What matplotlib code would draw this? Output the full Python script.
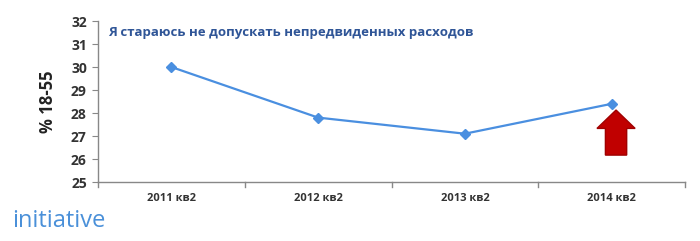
import matplotlib
matplotlib.use("Agg")
import matplotlib.pyplot as plt
from matplotlib.patches import FancyArrow

categories = ["2011 кв2", "2012 кв2", "2013 кв2", "2014 кв2"]
values = [30.0, 27.8, 27.1, 28.4]
yticks = [25, 26, 27, 28, 29, 30, 31, 32]
title = "Я стараюсь не допускать непредвиденных расходов"
ylabel = "% 18-55"

plt.rcParams['font.family'] = ['Open Sans', 'DejaVu Sans']

fig = plt.figure(figsize=(7.0, 2.41), dpi=100)
ax = fig.add_axes([0.14, 0.2448, 0.8386, 0.668])

x = list(range(len(categories)))
ax.plot(x, values, color="#4A8FE0", lw=1.6, marker="D", ms=5, mfc="#4A8FE0", mec="#4A8FE0")

ax.set_xlim(-0.5, len(categories) - 0.5)
ax.set_ylim(25, 32)
ax.set_yticks(yticks)
ax.set_yticklabels([str(v) for v in yticks], fontsize=10, fontweight="bold", color="#333333")
ax.set_xticks(x)
ax.set_xticklabels(categories, fontsize=8, fontweight="bold", color="#333333")
ax.tick_params(axis="x", length=0, pad=8)
ax.tick_params(axis="y", length=4, direction="out", color="#888888", pad=4)
for b in [-0.5, 0.5, 1.5, 2.5, 3.5]:
    ax.plot([b, b], [25, 25 - 0.22], color="#888888", lw=1, clip_on=False)

for s in ["top", "right"]:
    ax.spines[s].set_visible(False)
for s in ["left", "bottom"]:
    ax.spines[s].set_color("#888888")
    ax.spines[s].set_linewidth(1)

ax.set_ylabel(ylabel, fontsize=12, fontweight="bold", color="#222222", labelpad=10)

ax.text(0.017, 0.97, title, transform=ax.transAxes, fontsize=9.5, fontweight="bold",
        color="#2F5597", va="top", ha="left")

# red arrow near last point
arr = FancyArrow(3.03, 26.17, 0, 1.96, width=0.145, head_width=0.26, head_length=0.8,
                 length_includes_head=True, color="#C00000", ec="#A00000")
ax.add_patch(arr)

fig.text(0.017, 0.085, "initiative", fontsize=17, color="#4A90D9", ha="left", va="center",
         family=["Open Sans", "DejaVu Sans"], fontweight="normal")

fig.savefig("out.png", dpi=100)
